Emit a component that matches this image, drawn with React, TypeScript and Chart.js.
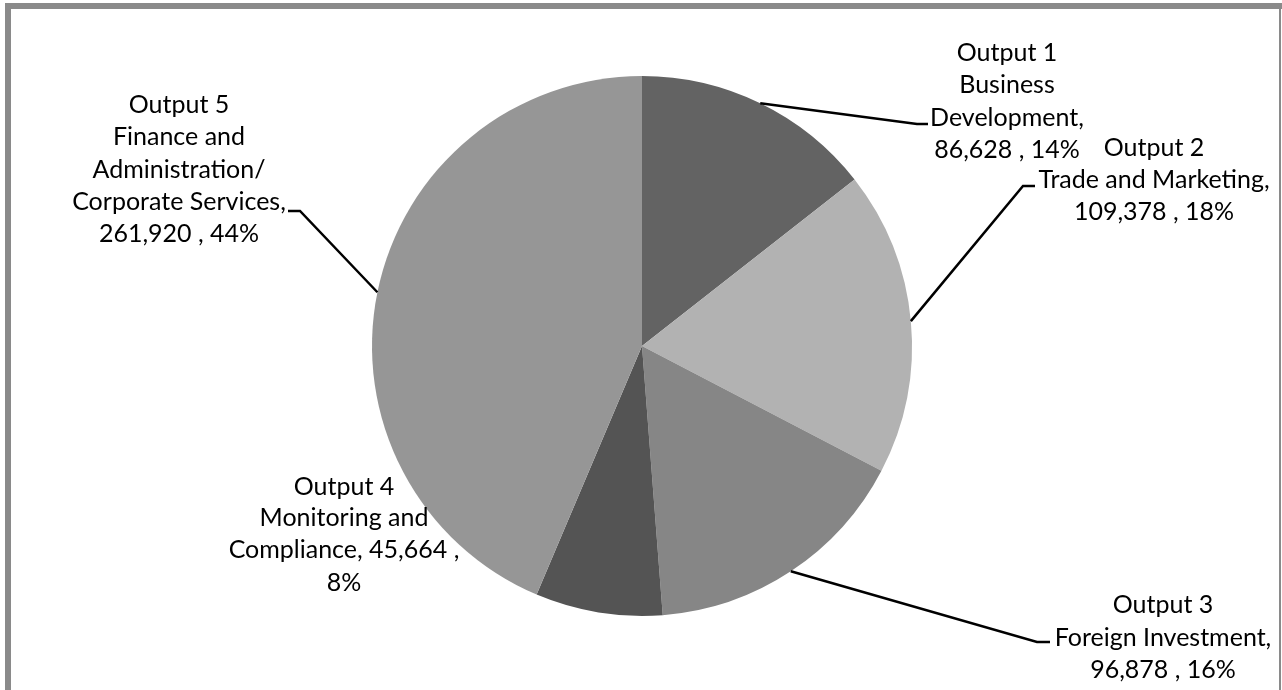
import React, { useEffect, useRef } from "react";
import { Chart, registerables } from "chart.js";

Chart.register(...registerables);

// ---- Data ----
const categories: string[] = [
  "Output 1 Business Development",
  "Output 2 Trade and Marketing",
  "Output 3 Foreign Investment",
  "Output 4 Monitoring and Compliance",
  "Output 5 Finance and Administration/ Corporate Services",
];
const values: number[] = [86628, 109378, 96878, 45664, 261920];
const sliceColors: string[] = ["#636363", "#b2b2b2", "#868686", "#545454", "#969696"];

// Label line templates ({v} = value, {p} = percent)
const labelLines: string[][] = [
  ["Output 1", "Business", "Development,", "{v} , {p}"],
  ["Output 2", "Trade and Marketing,", "{v} , {p}"],
  ["Output 3", "Foreign Investment,", "{v} , {p}"],
  ["Output 4", "Monitoring and", "Compliance, {v} ,", "{p}"],
  ["Output 5", "Finance and", "Administration/", "Corporate Services,", "{v} , {p}"],
];

// ---- Layout (positions only) ----
type LabelLayout = { cx: number; ys: number[]; bend?: [number, number]; end?: [number, number] };
const labelLayout: LabelLayout[] = [
  { cx: 1007, ys: [53, 85, 118, 150], bend: [917, 124], end: [928, 124] },
  { cx: 1154, ys: [148, 180, 212], bend: [1023, 186], end: [1035, 186] },
  { cx: 1163, ys: [605, 638, 670], bend: [1037, 642], end: [1050, 642] },
  { cx: 344, ys: [487, 518, 550, 583] },
  { cx: 179, ys: [105, 137, 170, 202, 234], bend: [300, 211], end: [288, 211] },
];
const FONT = "25px Lato";

const fmt = (n: number) => n.toLocaleString("en-US");

const framePlugin = {
  id: "frame",
  beforeDraw(chart: any) {
    const ctx = chart.ctx;
    ctx.save();
    ctx.fillStyle = "#ffffff";
    ctx.fillRect(0, 0, chart.width, chart.height);
    ctx.fillStyle = "#8a8a8a";
    ctx.fillRect(5, 3, 1282 - 5, 6); // top
    ctx.fillRect(5, 3, 6, 690 - 3); // left
    ctx.fillRect(1279, 3, 2, 690 - 3); // right
    ctx.restore();
  },
};

const labelPlugin = {
  id: "pieLabels",
  afterDraw(chart: any) {
    const ctx = chart.ctx;
    const meta = chart.getDatasetMeta(0);
    const data: number[] = chart.data.datasets[0].data;
    const total = data.reduce((a, b) => a + b, 0);
    ctx.save();
    ctx.font = FONT;
    ctx.fillStyle = "#000";
    ctx.textAlign = "center";
    ctx.textBaseline = "middle";
    meta.data.forEach((arc: any, i: number) => {
      const lay = labelLayout[i];
      const pct = Math.round((data[i] / total) * 100) + "%";
      labelLines[i].forEach((tpl, j) => {
        const t = tpl.replace("{v}", fmt(data[i])).replace("{p}", pct);
        ctx.fillText(t, lay.cx, lay.ys[j]);
      });
      if (lay.bend && lay.end) {
        const mid = (arc.startAngle + arc.endAngle) / 2;
        const sx = arc.x + Math.cos(mid) * arc.outerRadius;
        const sy = arc.y + Math.sin(mid) * arc.outerRadius;
        ctx.strokeStyle = "#000";
        ctx.lineWidth = 2.5;
        ctx.beginPath();
        ctx.moveTo(sx, sy);
        ctx.lineTo(lay.bend[0], lay.bend[1]);
        ctx.lineTo(lay.end[0], lay.end[1]);
        ctx.stroke();
      }
    });
    ctx.restore();
  },
};

export default function App() {
  const ref = useRef<HTMLCanvasElement | null>(null);
  useEffect(() => {
    if (!ref.current) return;
    const chart = new Chart(ref.current, {
      type: "pie",
      data: {
        labels: categories,
        datasets: [
          {
            data: values,
            backgroundColor: sliceColors,
            borderWidth: 0,
          },
        ],
      },
      options: {
        responsive: false,
        animation: false,
        layout: { padding: { top: 76, bottom: 74, left: 2, right: 0 } },
        plugins: {
          legend: { display: false },
          tooltip: { enabled: false },
        },
      },
      plugins: [framePlugin, labelPlugin],
    });
    return () => chart.destroy();
  }, []);
  return (
    <div style={{ position: "absolute", left: 0, top: 0, width: 1282, height: 690 }}>
      <canvas ref={ref} width={1282} height={690} />
    </div>
  );
}
